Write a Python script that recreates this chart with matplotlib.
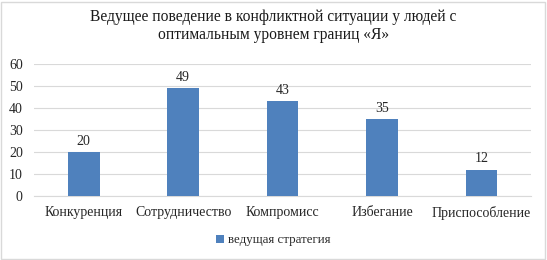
import matplotlib.pyplot as plt
from matplotlib.patches import Rectangle

categories = ["Конкуренция", "Сотрудничество", "Компромисс", "Избегание", "Приспособление"]
values = [20, 49, 43, 35, 12]
series_name = "ведущая стратегия"
title = "Ведущее поведение в конфликтной ситуации у людей с\nоптимальным уровнем границ «Я»"

FONT = "Liberation Serif"
plt.rcParams['font.family'] = [FONT, 'DejaVu Serif']

fig = plt.figure(figsize=(5.47, 2.6), dpi=100)
ax = fig.add_axes([0.062, 0.246, 0.909, 0.508])

x = range(len(categories))
bars = ax.bar(x, values, width=0.32, color="#4F81BD", zorder=3)
for b, v in zip(bars, values):
    ax.text(b.get_x() + b.get_width() / 2, v + 2, str(v), ha="center", va="bottom",
            fontsize=10, family=FONT, color="#262626")

ax.set_ylim(0, 60)
ax.set_xlim(-0.5, len(categories) - 0.5)
ax.set_yticks(range(0, 61, 10))
ax.set_xticks(list(x))
ax.set_xticklabels(categories)
for lbl in ax.get_xticklabels() + ax.get_yticklabels():
    lbl.set_fontfamily(FONT)
ax.grid(axis="y", color="#D9D9D9", linewidth=0.8, zorder=0)
for s in ["top", "right", "left"]:
    ax.spines[s].set_visible(False)
ax.spines["bottom"].set_color("#D9D9D9")
ax.tick_params(axis="both", length=0, labelsize=10, colors="#262626")
ax.tick_params(axis="y", pad=8)
ax.tick_params(axis="x", pad=7)

fig.text(0.5, 0.965, title, ha="center", va="top", fontsize=11.2, color="#1a1a1a",
         linespacing=1.15, family=FONT)

leg = ax.legend([bars[0]], [series_name], loc="center", bbox_to_anchor=(0.5, 0.075),
                bbox_transform=fig.transFigure, frameon=False, prop={"family": FONT, "size": 9.3},
                handlelength=0.6, handleheight=0.6, handletextpad=0.3)
for t in leg.get_texts():
    t.set_color("#262626")

fig.patches.append(Rectangle((0.002, 0.004), 0.994, 0.99, transform=fig.transFigure,
                             fill=False, edgecolor="#D9D9D9", linewidth=1))

fig.savefig("out.png", dpi=100)
